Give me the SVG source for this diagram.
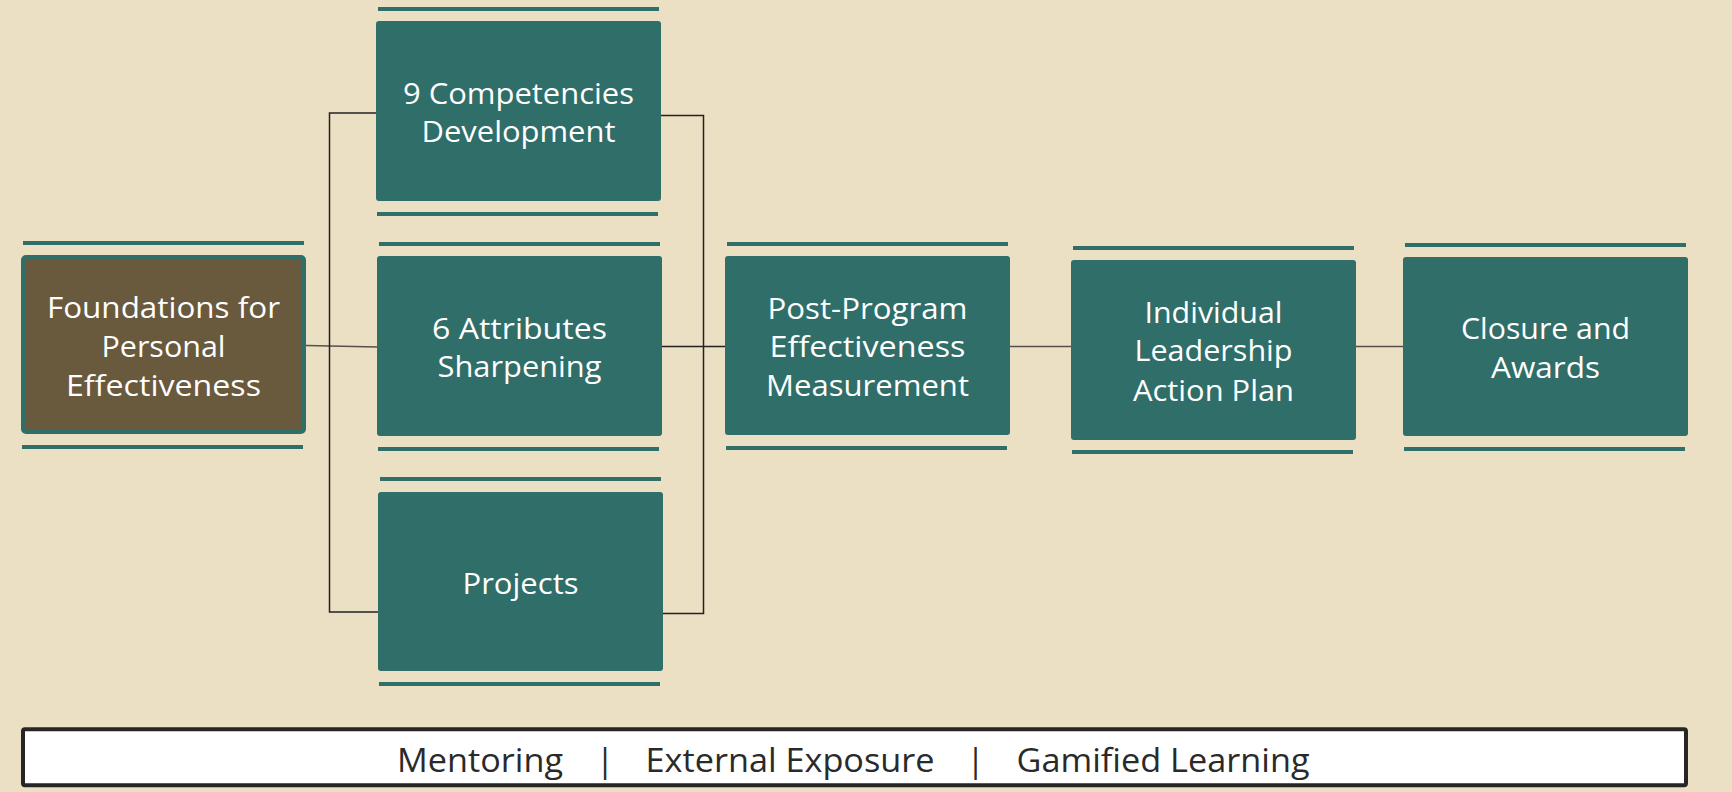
<svg xmlns="http://www.w3.org/2000/svg" width="1732" height="792" viewBox="0 0 1732 792">
  <style>
    .bg { fill: #EBE0C3; }
    .box { fill: #306E69; }
    .box-found { fill: #69593D; stroke: #306E69; stroke-width: 4; }
    .bar { fill: #306E69; }
    .label { font-family: "Open Sans", "Noto Sans", sans-serif; font-size: 30px; font-weight: 500; fill: #FFFFFF; text-anchor: middle; }
    .wire { fill: none; stroke: #222222; stroke-width: 1.5; }
    .wire-soft { fill: none; stroke: #55514A; stroke-width: 1.5; }
    .footer-box { fill: #FFFFFF; stroke: #262626; stroke-width: 4; }
    .footer-text { font-family: "Open Sans", "Noto Sans", sans-serif; font-size: 33px; fill: #2A2A2A; }
  </style>

  <rect class="bg" x="0" y="0" width="1732" height="792"/>

  <!-- connectors -->
  <g id="connectors">
    <line class="wire-soft" x1="306" y1="345.5" x2="378" y2="347"/>
    <!-- left bracket -->
    <polyline class="wire" points="376,113 329.5,113 329.5,612 378,612"/>
    <!-- right bracket -->
    <polyline class="wire" points="661,115.5 703.5,115.5 703.5,613.5 663,613.5"/>
    <line class="wire" x1="662" y1="346.5" x2="725" y2="346.5"/>
    <line class="wire-soft" x1="1010" y1="346.5" x2="1071" y2="346.5"/>
    <line class="wire-soft" x1="1356" y1="346.5" x2="1403" y2="346.5"/>
  </g>

  <!-- Foundations for Personal Effectiveness -->
  <g id="node-foundations">
    <rect class="bar" x="23" y="241" width="281" height="4"/>
    <rect class="box-found" x="23" y="257" width="281" height="175" rx="3"/>
    <rect class="bar" x="22" y="445" width="281" height="4"/>
    <text class="label" x="163.5" y="318" textLength="233" lengthAdjust="spacingAndGlyphs">Foundations for</text>
    <text class="label" x="163.5" y="356.5" textLength="124" lengthAdjust="spacingAndGlyphs">Personal</text>
    <text class="label" x="163.5" y="395.5" textLength="195" lengthAdjust="spacingAndGlyphs">Effectiveness</text>
  </g>

  <!-- 9 Competencies Development -->
  <g id="node-competencies">
    <rect class="bar" x="378" y="7" width="281" height="4"/>
    <rect class="box" x="376" y="21" width="285" height="180" rx="3"/>
    <rect class="bar" x="377" y="212" width="281" height="4"/>
    <text class="label" x="518.5" y="104" textLength="231" lengthAdjust="spacingAndGlyphs">9 Competencies</text>
    <text class="label" x="518.5" y="142" textLength="194" lengthAdjust="spacingAndGlyphs">Development</text>
  </g>

  <!-- 6 Attributes Sharpening -->
  <g id="node-attributes">
    <rect class="bar" x="379" y="242" width="281" height="4"/>
    <rect class="box" x="377" y="256" width="285" height="180" rx="3"/>
    <rect class="bar" x="378" y="447" width="281" height="4"/>
    <text class="label" x="519.5" y="339" textLength="175" lengthAdjust="spacingAndGlyphs">6 Attributes</text>
    <text class="label" x="519.5" y="377" textLength="164" lengthAdjust="spacingAndGlyphs">Sharpening</text>
  </g>

  <!-- Projects -->
  <g id="node-projects">
    <rect class="bar" x="380" y="477" width="281" height="4"/>
    <rect class="box" x="378" y="492" width="285" height="179" rx="3"/>
    <rect class="bar" x="379" y="682" width="281" height="4"/>
    <text class="label" x="520.5" y="594" textLength="116" lengthAdjust="spacingAndGlyphs">Projects</text>
  </g>

  <!-- Post-Program Effectiveness Measurement -->
  <g id="node-post-program">
    <rect class="bar" x="727" y="242" width="281" height="4"/>
    <rect class="box" x="725" y="256" width="285" height="179" rx="3"/>
    <rect class="bar" x="726" y="446" width="281" height="4"/>
    <text class="label" x="867.5" y="319" textLength="200" lengthAdjust="spacingAndGlyphs">Post-Program</text>
    <text class="label" x="867.5" y="357" textLength="196" lengthAdjust="spacingAndGlyphs">Effectiveness</text>
    <text class="label" x="867.5" y="396" textLength="203" lengthAdjust="spacingAndGlyphs">Measurement</text>
  </g>

  <!-- Individual Leadership Action Plan -->
  <g id="node-action-plan">
    <rect class="bar" x="1073" y="246" width="281" height="4"/>
    <rect class="box" x="1071" y="260" width="285" height="180" rx="3"/>
    <rect class="bar" x="1072" y="450" width="281" height="4"/>
    <text class="label" x="1213.5" y="322.5" textLength="138" lengthAdjust="spacingAndGlyphs">Individual</text>
    <text class="label" x="1213.5" y="361" textLength="158" lengthAdjust="spacingAndGlyphs">Leadership</text>
    <text class="label" x="1213.5" y="400.5" textLength="161" lengthAdjust="spacingAndGlyphs">Action Plan</text>
  </g>

  <!-- Closure and Awards -->
  <g id="node-closure">
    <rect class="bar" x="1405" y="243" width="281" height="4"/>
    <rect class="box" x="1403" y="257" width="285" height="179" rx="3"/>
    <rect class="bar" x="1404" y="447" width="281" height="4"/>
    <text class="label" x="1545.5" y="339" textLength="169" lengthAdjust="spacingAndGlyphs">Closure and</text>
    <text class="label" x="1545.5" y="377.5" textLength="109" lengthAdjust="spacingAndGlyphs">Awards</text>
  </g>

  <!-- supporting elements strip -->
  <g id="footer">
    <rect class="footer-box" x="23" y="729.3" width="1663" height="56" rx="2"/>
    <text class="footer-text" x="397" y="772" textLength="166" lengthAdjust="spacingAndGlyphs">Mentoring</text>
    <text class="footer-text" x="605" y="772" text-anchor="middle">|</text>
    <text class="footer-text" x="645.5" y="772" textLength="289" lengthAdjust="spacingAndGlyphs">External Exposure</text>
    <text class="footer-text" x="975.5" y="772" text-anchor="middle">|</text>
    <text class="footer-text" x="1016.5" y="772" textLength="293" lengthAdjust="spacingAndGlyphs">Gamified Learning</text>
  </g>
</svg>
